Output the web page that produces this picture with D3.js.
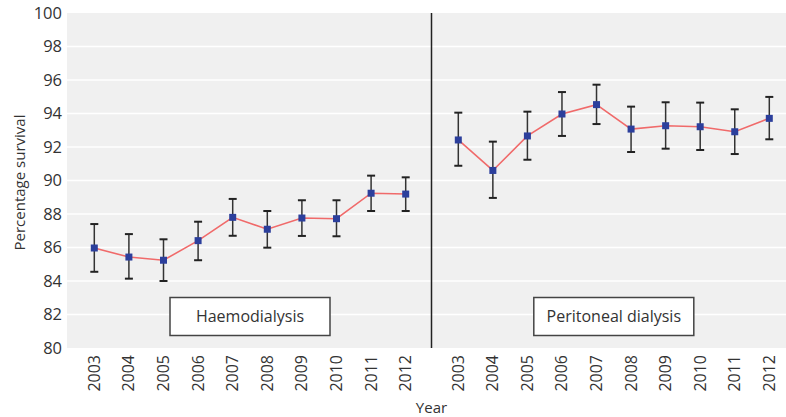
<!DOCTYPE html>
<html>
<head>
<meta charset="utf-8">
<script src="https://cdn.jsdelivr.net/npm/d3@7"></script>
<style>
  html, body { margin: 0; padding: 0; background: #ffffff; }
  svg { display: block; }
  text { font-family: "Open Sans", "Noto Sans", sans-serif; fill: #333; }
</style>
</head>
<body>
<svg id="chart" width="786" height="417"></svg>
<script>
// ---- data ----
const years = ["2003","2004","2005","2006","2007","2008","2009","2010","2011","2012"];
const panels = ["Haemodialysis", "Peritoneal dialysis"];
const haemoValue = [85.97, 85.43, 85.24, 86.41, 87.80, 87.09, 87.76, 87.72, 89.24, 89.19];
const haemoUpper = [87.40, 86.80, 86.49, 87.54, 88.90, 88.18, 88.82, 88.82, 90.29, 90.19];
const haemoLower = [84.55, 84.14, 84.00, 85.24, 86.70, 85.99, 86.69, 86.67, 88.18, 88.18];
const periValue = [92.42, 90.60, 92.66, 93.97, 94.53, 93.07, 93.27, 93.21, 92.91, 93.71];
const periUpper = [94.05, 92.32, 94.11, 95.28, 95.72, 94.41, 94.67, 94.65, 94.25, 94.99];
const periLower = [90.88, 88.96, 91.24, 92.66, 93.37, 91.70, 91.90, 91.82, 91.58, 92.46];
const yTicks = [80, 82, 84, 86, 88, 90, 92, 94, 96, 98, 100];
const yLabel = "Percentage survival";
const xLabel = "Year";

// ---- layout ----
const svg = d3.select("#chart");
const plot = { left: 67, right: 786, top: 13, bottom: 348, divider: 431.5 };

const y = d3.scaleLinear().domain([80, 100]).range([plot.bottom, plot.top]);
const xLeft = d3.scalePoint().domain(years).range([plot.left + 27.3, plot.divider - 25.8]);
const xRight = d3.scalePoint().domain(years).range([plot.divider + 26.8, plot.right - 16.7]);

// background
svg.append("rect")
  .attr("x", plot.left).attr("y", plot.top)
  .attr("width", plot.right - plot.left).attr("height", plot.bottom - plot.top)
  .attr("fill", "#f0f0f0");

// gridlines
svg.append("g").selectAll("line").data(yTicks.filter(d => d > 80 && d < 100)).join("line")
  .attr("x1", plot.left).attr("x2", plot.right)
  .attr("y1", d => y(d)).attr("y2", d => y(d))
  .attr("stroke", "#ffffff").attr("stroke-width", 1.6);

// y axis labels
const yAxis = d3.axisLeft(y).tickValues(yTicks).tickSize(0).tickPadding(5).tickFormat(d3.format("d"));
const yg = svg.append("g").attr("transform", `translate(${plot.left},0)`).call(yAxis);
yg.select(".domain").remove();
yg.selectAll("text").attr("font-size", 16.5).attr("fill", "#333")
  .style("font-family", '"Open Sans", "Noto Sans", sans-serif');

svg.append("text")
  .attr("transform", `translate(25,182.5) rotate(-90)`)
  .attr("text-anchor", "middle").attr("font-size", 15).text(yLabel);

// divider
svg.append("line")
  .attr("x1", plot.divider).attr("x2", plot.divider)
  .attr("y1", plot.top).attr("y2", plot.bottom)
  .attr("stroke", "#222").attr("stroke-width", 1.5);

function drawPanel(x, vals, up, lo, label) {
  const g = svg.append("g");
  const pts = years.map((yr, i) => ({ yr, v: vals[i], u: up[i], l: lo[i] }));

  // error bars
  const eb = g.append("g").selectAll("g").data(pts).join("g");
  eb.append("line")
    .attr("x1", d => x(d.yr)).attr("x2", d => x(d.yr))
    .attr("y1", d => y(d.u)).attr("y2", d => y(d.l))
    .attr("stroke", "#333").attr("stroke-width", 1.5);
  eb.append("line")
    .attr("x1", d => x(d.yr) - 4).attr("x2", d => x(d.yr) + 4)
    .attr("y1", d => y(d.u)).attr("y2", d => y(d.u))
    .attr("stroke", "#222").attr("stroke-width", 2);
  eb.append("line")
    .attr("x1", d => x(d.yr) - 4).attr("x2", d => x(d.yr) + 4)
    .attr("y1", d => y(d.l)).attr("y2", d => y(d.l))
    .attr("stroke", "#222").attr("stroke-width", 2);

  // line
  g.append("path").datum(pts)
    .attr("d", d3.line().x(d => x(d.yr)).y(d => y(d.v)))
    .attr("fill", "none").attr("stroke", "#f06a6a").attr("stroke-width", 1.6);

  // markers
  g.append("g").selectAll("rect").data(pts).join("rect")
    .attr("x", d => x(d.yr) - 3.5).attr("y", d => y(d.v) - 3.5)
    .attr("width", 7).attr("height", 7)
    .attr("fill", "#2c3f9c");

  // x tick labels
  g.append("g").selectAll("text").data(years).join("text")
    .attr("transform", d => `translate(${x(d) + 5.5},355) rotate(-90)`)
    .attr("text-anchor", "end").attr("font-size", 16).text(d => d);

  // label box
  const cx = (x(years[0]) + x(years[years.length - 1])) / 2;
  const box = g.append("g");
  box.append("rect")
    .attr("x", cx - 80).attr("y", 297.5)
    .attr("width", 160).attr("height", 38)
    .attr("fill", "#ffffff").attr("stroke", "#444").attr("stroke-width", 1.5);
  box.append("text")
    .attr("x", cx).attr("y", 322)
    .attr("text-anchor", "middle").attr("font-size", 16).text(label);
}

drawPanel(xLeft, haemoValue, haemoUpper, haemoLower, panels[0]);
drawPanel(xRight, periValue, periUpper, periLower, panels[1]);

svg.append("text")
  .attr("x", plot.divider).attr("y", 413)
  .attr("text-anchor", "middle").attr("font-size", 15).text(xLabel);
</script>
</body>
</html>
